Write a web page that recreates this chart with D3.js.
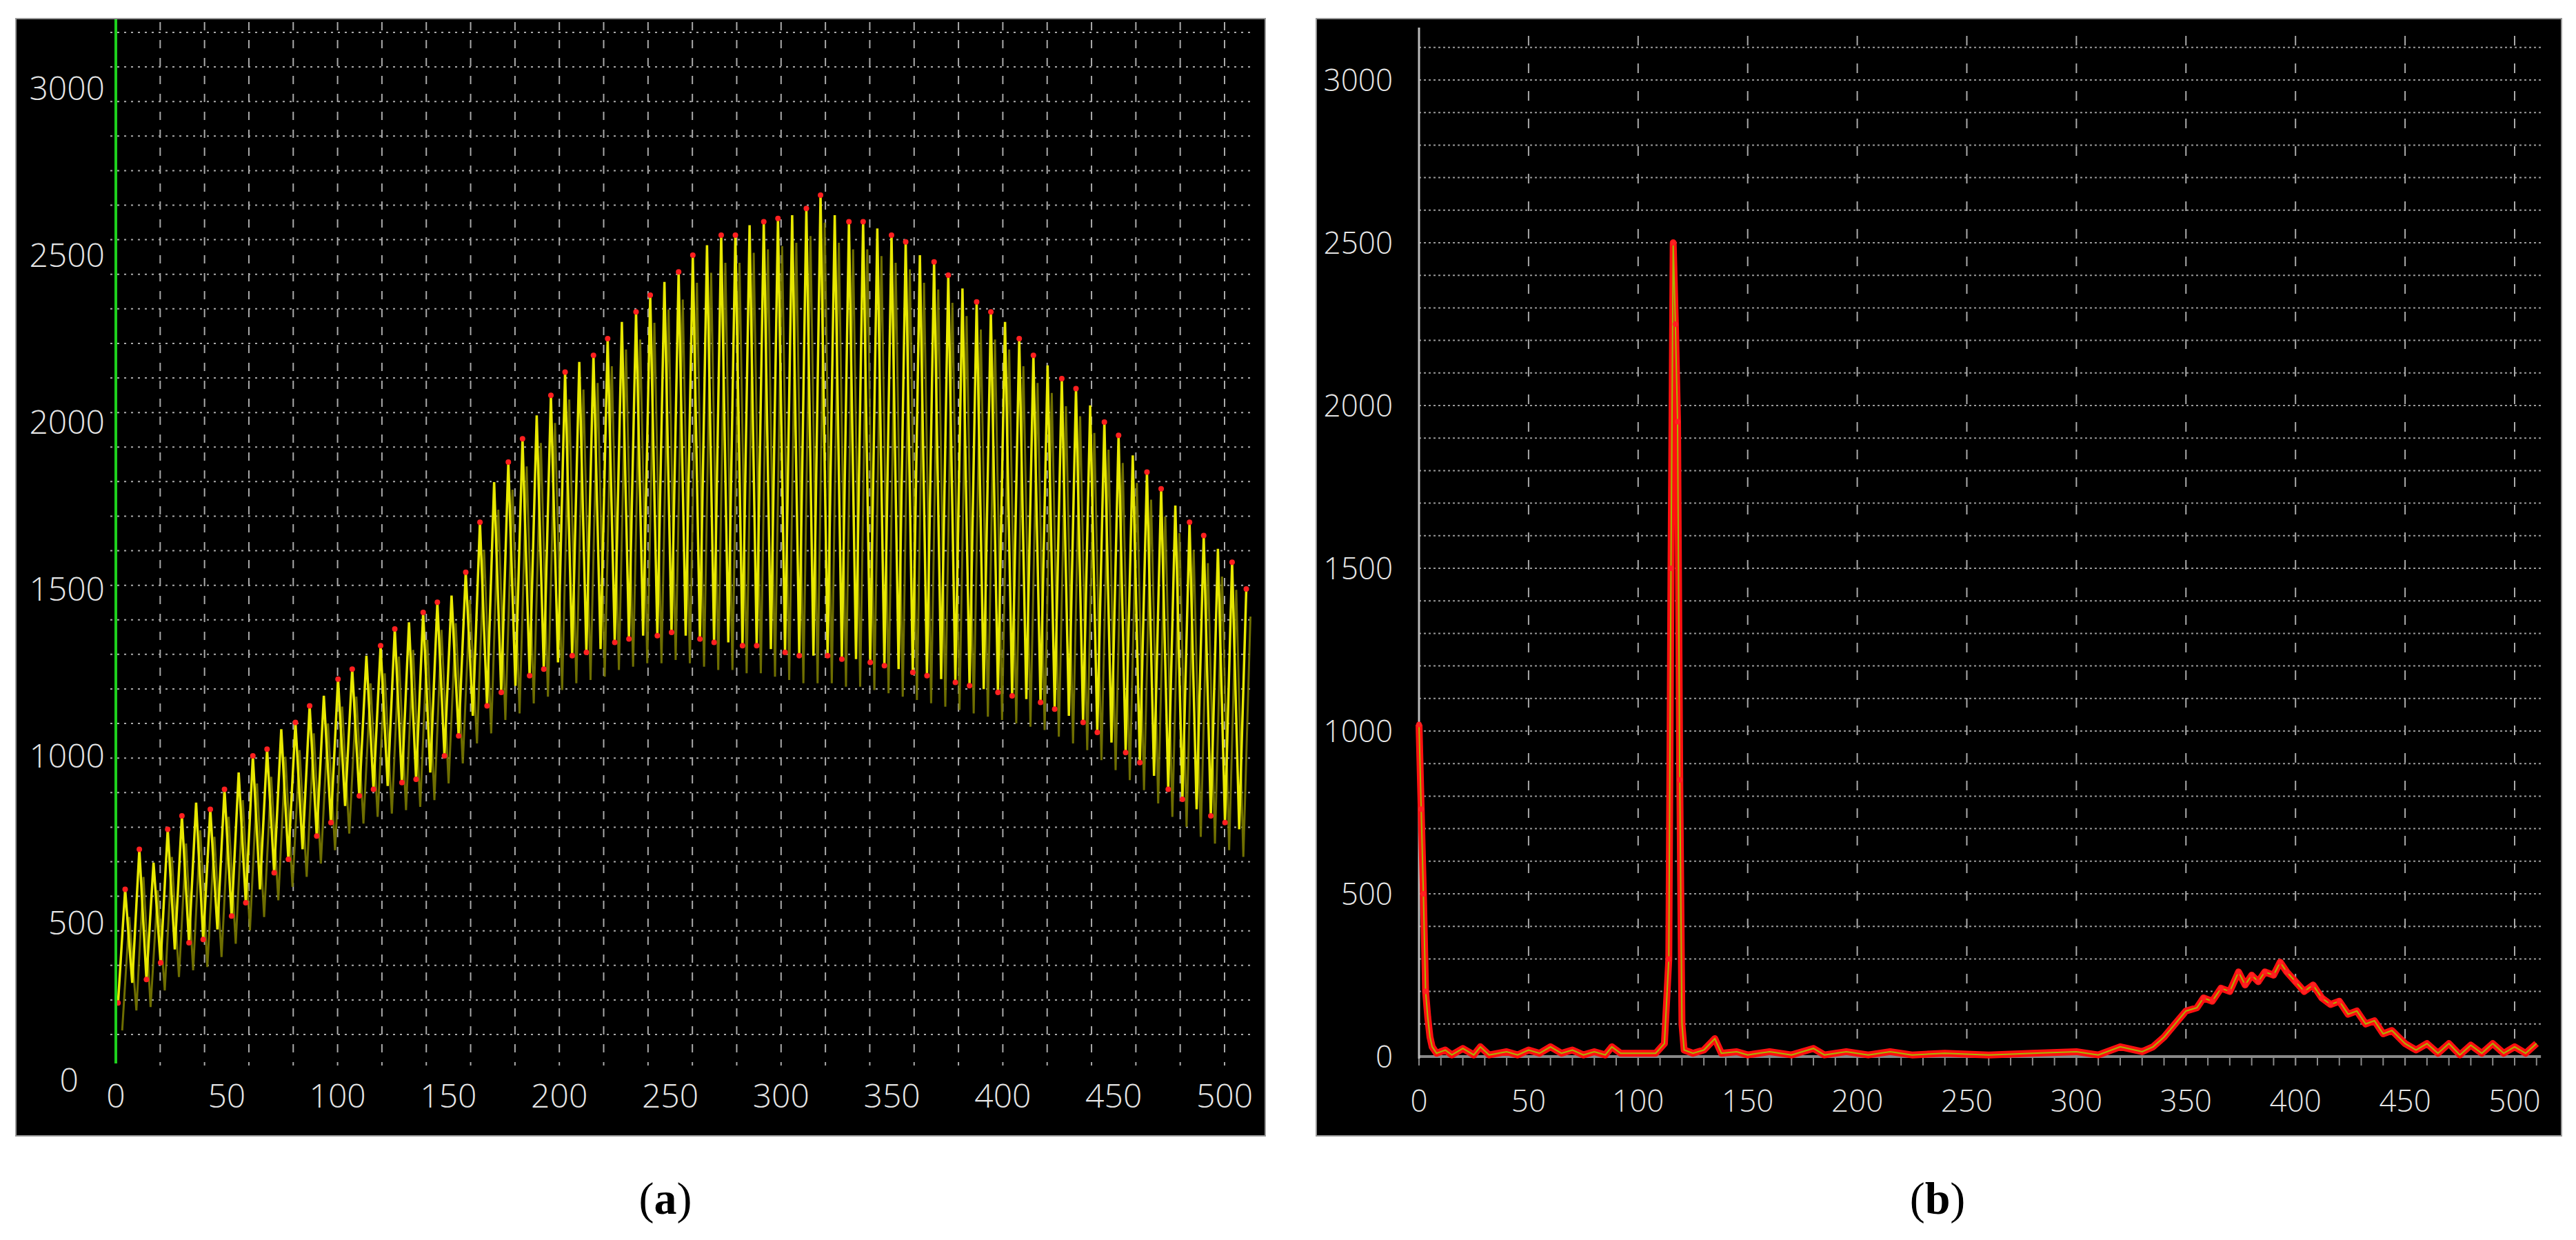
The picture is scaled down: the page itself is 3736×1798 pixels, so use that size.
<!DOCTYPE html>
<html><head><meta charset="utf-8">
<script src="https://cdn.jsdelivr.net/npm/d3@7"></script>
<style>body{margin:0;background:#fff}svg{display:block}</style>
</head><body>
<script>
// panel (a): one peak and one trough per oscillation cycle
const aPeaks = [600,720,680,780,820,860,840,900,950,1000,
  1020,1080,1100,1150,1180,1230,1260,1300,1330,1380,
  1400,1430,1460,1480,1550,1700,1820,1880,1950,2020,
  2080,2150,2180,2200,2250,2300,2330,2380,2420,2450,
  2500,2530,2560,2560,2590,2600,2610,2620,2640,2680,
  2620,2600,2600,2580,2560,2540,2500,2480,2440,2400,
  2360,2330,2300,2250,2200,2170,2130,2100,2050,2000,
  1960,1900,1850,1800,1750,1700,1660,1620,1580,1500]
const aTroughs = [260,320,330,380,420,440,450,480,520,560,
  600,650,690,720,760,800,850,880,900,910,
  920,930,950,1000,1060,1120,1150,1190,1210,1240,
  1260,1280,1300,1310,1320,1340,1350,1360,1360,1370,
  1360,1350,1340,1340,1330,1330,1320,1310,1300,1300,
  1300,1290,1290,1280,1270,1260,1250,1240,1230,1220,
  1210,1200,1190,1180,1170,1160,1140,1120,1100,1070,
  1040,1010,980,940,900,870,840,820,800,780]
const aPeriod = 6.4

// panel (b): [x, value]
const bPoints = [[0,1020],[1,760],[2,500],[3,200],[4,120],[5,60],[6,30],[8,10],[12,20],[15,5],[20,25],[25,5],[28,30],[32,5],[40,15],[45,5],[50,20],[55,10],[60,30],[65,10],[70,20],[75,5],[80,15],[85,5],[88,30],[92,10],[100,10],[108,10],[112,40],[114,300],[115,1500],[116,2500],[117,2250],[118,1950],[119,850],[120,100],[121,20],[125,10],[130,20],[135,55],[138,10],[145,15],[150,5],[160,15],[170,5],[180,25],[185,5],[195,15],[205,5],[215,15],[225,5],[240,10],[260,5],[280,10],[300,15],[310,5],[320,30],[330,15],[335,30],[340,60],[345,100],[350,140],[355,150],[358,180],[362,170],[366,210],[370,200],[374,260],[377,220],[380,250],[383,230],[386,260],[390,250],[393,290],[396,260],[400,230],[404,200],[408,220],[412,180],[416,160],[420,170],[424,130],[428,140],[432,100],[436,110],[440,70],[444,80],[450,40],[455,20],[460,40],[465,10],[470,40],[475,5],[480,35],[485,10],[490,40],[495,10],[500,30],[505,10],[510,40]]

const xTicks = [0,50,100,150,200,250,300,350,400,450,500]
const yTicks = [0,500,1000,1500,2000,2500,3000]

const svg = d3.select("body").append("svg").attr("width", 3736).attr("height", 1798)
const font = "'Open Sans', 'Noto Sans', sans-serif"

// ---------- panel (a) ----------
svg.append("rect").attr("x", 23).attr("y", 27).attr("width", 1812).attr("height", 1620)
  .attr("fill", "#000").attr("stroke", "#999").attr("stroke-width", 2)

let xa = d3.scaleLinear().domain([0, 500]).range([168, 1776])
let ya = d3.scaleLinear().domain([0, 3000]).range([1580, 128])
let ga = svg.append("g")

// grid
let gridYa = d3.scaleLinear().domain([0, 29]).range([1500, 47])
ga.selectAll(".hg").data(d3.range(0, 30)).enter().append("line")
  .attr("x1", 160).attr("x2", 1815).attr("y1", d => gridYa(d)).attr("y2", d => gridYa(d))
  .attr("stroke", "#aaa").attr("stroke-width", 2).attr("stroke-dasharray", "3,7")
ga.selectAll(".vg").data(d3.range(20, 520, 20)).enter().append("line")
  .attr("x1", d => xa(d)).attr("x2", d => xa(d)).attr("y1", 32).attr("y2", 1545)
  .attr("stroke", "#aaa").attr("stroke-width", 2).attr("stroke-dasharray", "12,14")

let aLine = []
aPeaks.forEach((p, i) => {
  aLine.push([i * aPeriod + 1, aTroughs[i]])
  aLine.push([i * aPeriod + 4.2, p])
})
ga.append("path").datum(aLine)
  .attr("d", d3.line().x(d => xa(d[0]) + 6).y(d => ya(d[1]) + 40))
  .attr("fill", "none").attr("stroke", "#7a7a00").attr("stroke-width", 3).attr("opacity", 0.9)
ga.append("path").datum(aLine)
  .attr("d", d3.line().x(d => xa(d[0])).y(d => ya(d[1])))
  .attr("fill", "none").attr("stroke", "#e8e800").attr("stroke-width", 3.5)
ga.selectAll(".dot").data(aLine.filter((d, i) => i % 3 != 2)).enter().append("circle")
  .attr("cx", d => xa(d[0])).attr("cy", d => ya(d[1])).attr("r", 4).attr("fill", "#ff2020")

ga.append("line").attr("x1", xa(0)).attr("x2", xa(0)).attr("y1", 28).attr("y2", 1542)
  .attr("stroke", "#1ed01e").attr("stroke-width", 4)

ga.selectAll(".yl").data(yTicks).enter().append("text")
  .attr("x", d => d === 0 ? 114 : 152)
  .attr("y", d => d === 0 ? 1583 : ya(d) + 17).attr("text-anchor", "end")
  .attr("font-family", font).attr("font-weight", 300).attr("font-size", 48).attr("fill", "#e6e6e6").text(d => d)
ga.selectAll(".xl").data(xTicks).enter().append("text")
  .attr("x", d => xa(d)).attr("y", 1606).attr("text-anchor", "middle")
  .attr("font-family", font).attr("font-weight", 300).attr("font-size", 48).attr("fill", "#e6e6e6").text(d => d)

// ---------- panel (b) ----------
svg.append("rect").attr("x", 1909).attr("y", 27).attr("width", 1806).attr("height", 1620)
  .attr("fill", "#000").attr("stroke", "#999").attr("stroke-width", 2)

let xb = d3.scaleLinear().domain([0, 500]).range([2058, 3647])
let yb = d3.scaleLinear().domain([0, 3000]).range([1532, 116])
let gb = svg.append("g")

gb.selectAll(".hg").data(d3.range(100, 3200, 100)).enter().append("line")
  .attr("x1", xb(0)).attr("x2", xb(512)).attr("y1", d => yb(d)).attr("y2", d => yb(d))
  .attr("stroke", "#999").attr("stroke-width", 2).attr("stroke-dasharray", "3,4")
gb.selectAll(".vg").data(d3.range(50, 550, 50)).enter().append("line")
  .attr("x1", d => xb(d)).attr("x2", d => xb(d)).attr("y1", 52).attr("y2", 1545)
  .attr("stroke", "#aaa").attr("stroke-width", 2).attr("stroke-dasharray", "14,26")
gb.selectAll(".tk").data(d3.range(0, 520, 10)).enter().append("line")
  .attr("x1", d => xb(d)).attr("x2", d => xb(d)).attr("y1", 1532).attr("y2", 1545)
  .attr("stroke", "#888").attr("stroke-width", 2)
gb.append("line").attr("x1", xb(0)).attr("x2", xb(512)).attr("y1", yb(0)).attr("y2", yb(0))
  .attr("stroke", "#888").attr("stroke-width", 4)
gb.append("line").attr("x1", xb(0)).attr("x2", xb(0)).attr("y1", 40).attr("y2", 1535)
  .attr("stroke", "#bbb").attr("stroke-width", 3)

let lineB = d3.line().x(d => xb(d[0])).y(d => yb(d[1]))
gb.append("path").datum(bPoints).attr("d", lineB)
  .attr("fill", "none").attr("stroke", "#ff1010").attr("stroke-width", 10).attr("stroke-linejoin", "round")
gb.append("path").datum(bPoints).attr("d", lineB)
  .attr("fill", "none").attr("stroke", "#a8b800").attr("stroke-width", 2)
gb.selectAll(".dot").data(bPoints.filter(d => d[1] > 150)).enter().append("circle")
  .attr("cx", d => xb(d[0])).attr("cy", d => yb(d[1])).attr("r", 4).attr("fill", "#ff2020")

gb.selectAll(".yl").data(yTicks).enter().append("text")
  .attr("x", 2020).attr("y", d => yb(d) + 16).attr("text-anchor", "end")
  .attr("font-family", font).attr("font-weight", 300).attr("font-size", 44).attr("fill", "#e6e6e6").text(d => d)
gb.selectAll(".xl").data(xTicks).enter().append("text")
  .attr("x", d => xb(d)).attr("y", 1612).attr("text-anchor", "middle")
  .attr("font-family", font).attr("font-weight", 300).attr("font-size", 44).attr("fill", "#e6e6e6").text(d => d)

// captions
const captions = [{x: 965, l: "a"}, {x: 2810, l: "b"}]
captions.forEach(c => {
  let t = svg.append("text").attr("x", c.x).attr("y", 1760).attr("text-anchor", "middle")
    .attr("font-family", "'Liberation Serif', serif").attr("font-size", 66).attr("fill", "#000")
  t.append("tspan").text("(")
  t.append("tspan").attr("font-weight", "bold").text(c.l)
  t.append("tspan").text(")")
})
</script>
</body></html>
